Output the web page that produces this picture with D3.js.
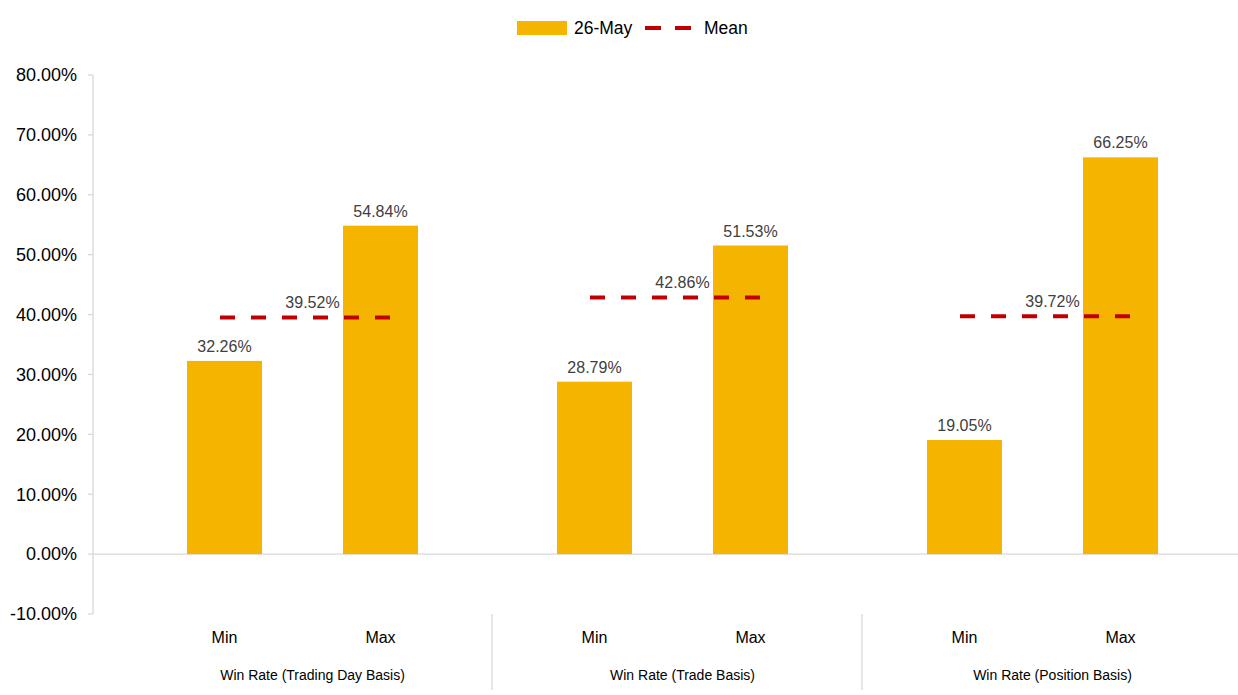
<!DOCTYPE html>
<html>
<head>
<meta charset="utf-8">
<script src="https://d3js.org/d3.v7.min.js"></script>
<style>
body { margin: 0; background: #fff; font-family: 'Liberation Sans', Arial, sans-serif; }
line.grey { stroke: #d9d9d9; stroke-width: 1.3; }
</style>
</head>
<body>
<div id="chart"></div>
<script>
var groups = ["Win Rate (Trading Day Basis)", "Win Rate (Trade Basis)", "Win Rate (Position Basis)"];
var stats = ["Min", "Max"];
var minValues = [32.26, 28.79, 19.05];
var maxValues = [54.84, 51.53, 66.25];
var meanValues = [39.52, 42.86, 39.72];
var yTicks = [-10, 0, 10, 20, 30, 40, 50, 60, 70, 80];

var width = 1238, height = 695;
var barColor = "#f5b400", meanColor = "#c00000";

var svg = d3.select("#chart").append("svg")
  .attr("width", width).attr("height", height);

var y = d3.scaleLinear().domain([-10, 80]).range([614, 75]);
var x0 = d3.scaleBand().domain(groups).range([117.5, 1227.5]);
var x1 = d3.scaleBand().domain(stats).range([0, x0.bandwidth()])
  .paddingInner(1 - 75 / 156).paddingOuter(0.5 * (370 / 156 - 2 + (1 - 75 / 156)));

var fmt = function (v) { return v.toFixed(2) + "%"; };

// y axis
svg.append("line").attr("class", "grey")
  .attr("x1", 93).attr("x2", 93).attr("y1", y(80)).attr("y2", y(-10));
svg.selectAll("line.ytick").data(yTicks).enter().append("line")
  .attr("class", "grey ytick")
  .attr("x1", 88).attr("x2", 93)
  .attr("y1", function (d) { return y(d); }).attr("y2", function (d) { return y(d); });
svg.selectAll("text.ylab").data(yTicks).enter().append("text")
  .attr("class", "ylab")
  .attr("x", 77).attr("y", function (d) { return y(d); })
  .attr("dy", "0.35em").attr("text-anchor", "end")
  .style("font-size", "18px").style("fill", "#000")
  .text(fmt);

// zero line
svg.append("line").attr("class", "grey")
  .attr("x1", 93).attr("x2", width).attr("y1", y(0)).attr("y2", y(0));

// bars
var rows = [];
groups.forEach(function (g, i) {
  rows.push({ group: g, stat: "Min", value: minValues[i] });
  rows.push({ group: g, stat: "Max", value: maxValues[i] });
});

svg.selectAll("rect.bar").data(rows).enter().append("rect")
  .attr("class", "bar")
  .attr("x", function (d) { return x0(d.group) + x1(d.stat); })
  .attr("width", x1.bandwidth())
  .attr("y", function (d) { return y(d.value); })
  .attr("height", function (d) { return y(0) - y(d.value); })
  .style("fill", barColor);

svg.selectAll("text.blab").data(rows).enter().append("text")
  .attr("class", "blab")
  .attr("x", function (d) { return x0(d.group) + x1(d.stat) + x1.bandwidth() / 2; })
  .attr("y", function (d) { return y(d.value) - 9; })
  .attr("text-anchor", "middle")
  .style("font-size", "16px").style("fill", "#404040")
  .text(function (d) { return fmt(d.value); });

// mean lines
groups.forEach(function (g, i) {
  var xa = x0(g) + x1("Min") + x1.bandwidth() / 2 - 4.5;
  var xb = x0(g) + x1("Max") + x1.bandwidth() / 2 + 10.5;
  svg.append("line")
    .attr("x1", xa).attr("x2", xb)
    .attr("y1", y(meanValues[i])).attr("y2", y(meanValues[i]))
    .style("stroke", meanColor).style("stroke-width", 4)
    .style("stroke-dasharray", "15,16");
  svg.append("text")
    .attr("x", x0(g) + x0.bandwidth() / 2 + 10)
    .attr("y", y(meanValues[i]) - 9)
    .attr("text-anchor", "middle")
    .style("font-size", "16px").style("fill", "#404040")
    .text(fmt(meanValues[i]));
});

// category labels
rows.forEach(function (d) {
  svg.append("text")
    .attr("x", x0(d.group) + x1(d.stat) + x1.bandwidth() / 2)
    .attr("y", 643)
    .attr("text-anchor", "middle")
    .style("font-size", "16px").style("fill", "#000")
    .text(d.stat);
});
groups.forEach(function (g, i) {
  svg.append("text")
    .attr("x", x0(g) + x0.bandwidth() / 2 + 10)
    .attr("y", 680)
    .attr("text-anchor", "middle")
    .style("font-size", "14px").style("fill", "#000")
    .text(g);
  if (i > 0) {
    var sx = x0(g) + 4.5;
    svg.append("line").attr("class", "grey")
      .attr("x1", sx).attr("x2", sx).attr("y1", 614).attr("y2", 690);
  }
});

// legend
var legend = svg.append("g");
legend.append("rect").attr("x", 517).attr("y", 21).attr("width", 50).attr("height", 14)
  .style("fill", barColor);
legend.append("text").attr("x", 574).attr("y", 28).attr("dy", "0.35em")
  .style("font-size", "17.5px").style("fill", "#000").text("26-May");
legend.append("line").attr("x1", 645).attr("x2", 692).attr("y1", 28).attr("y2", 28)
  .style("stroke", meanColor).style("stroke-width", 4).style("stroke-dasharray", "16,14");
legend.append("text").attr("x", 704).attr("y", 28).attr("dy", "0.35em")
  .style("font-size", "17.5px").style("fill", "#000").text("Mean");
</script>
</body>
</html>
